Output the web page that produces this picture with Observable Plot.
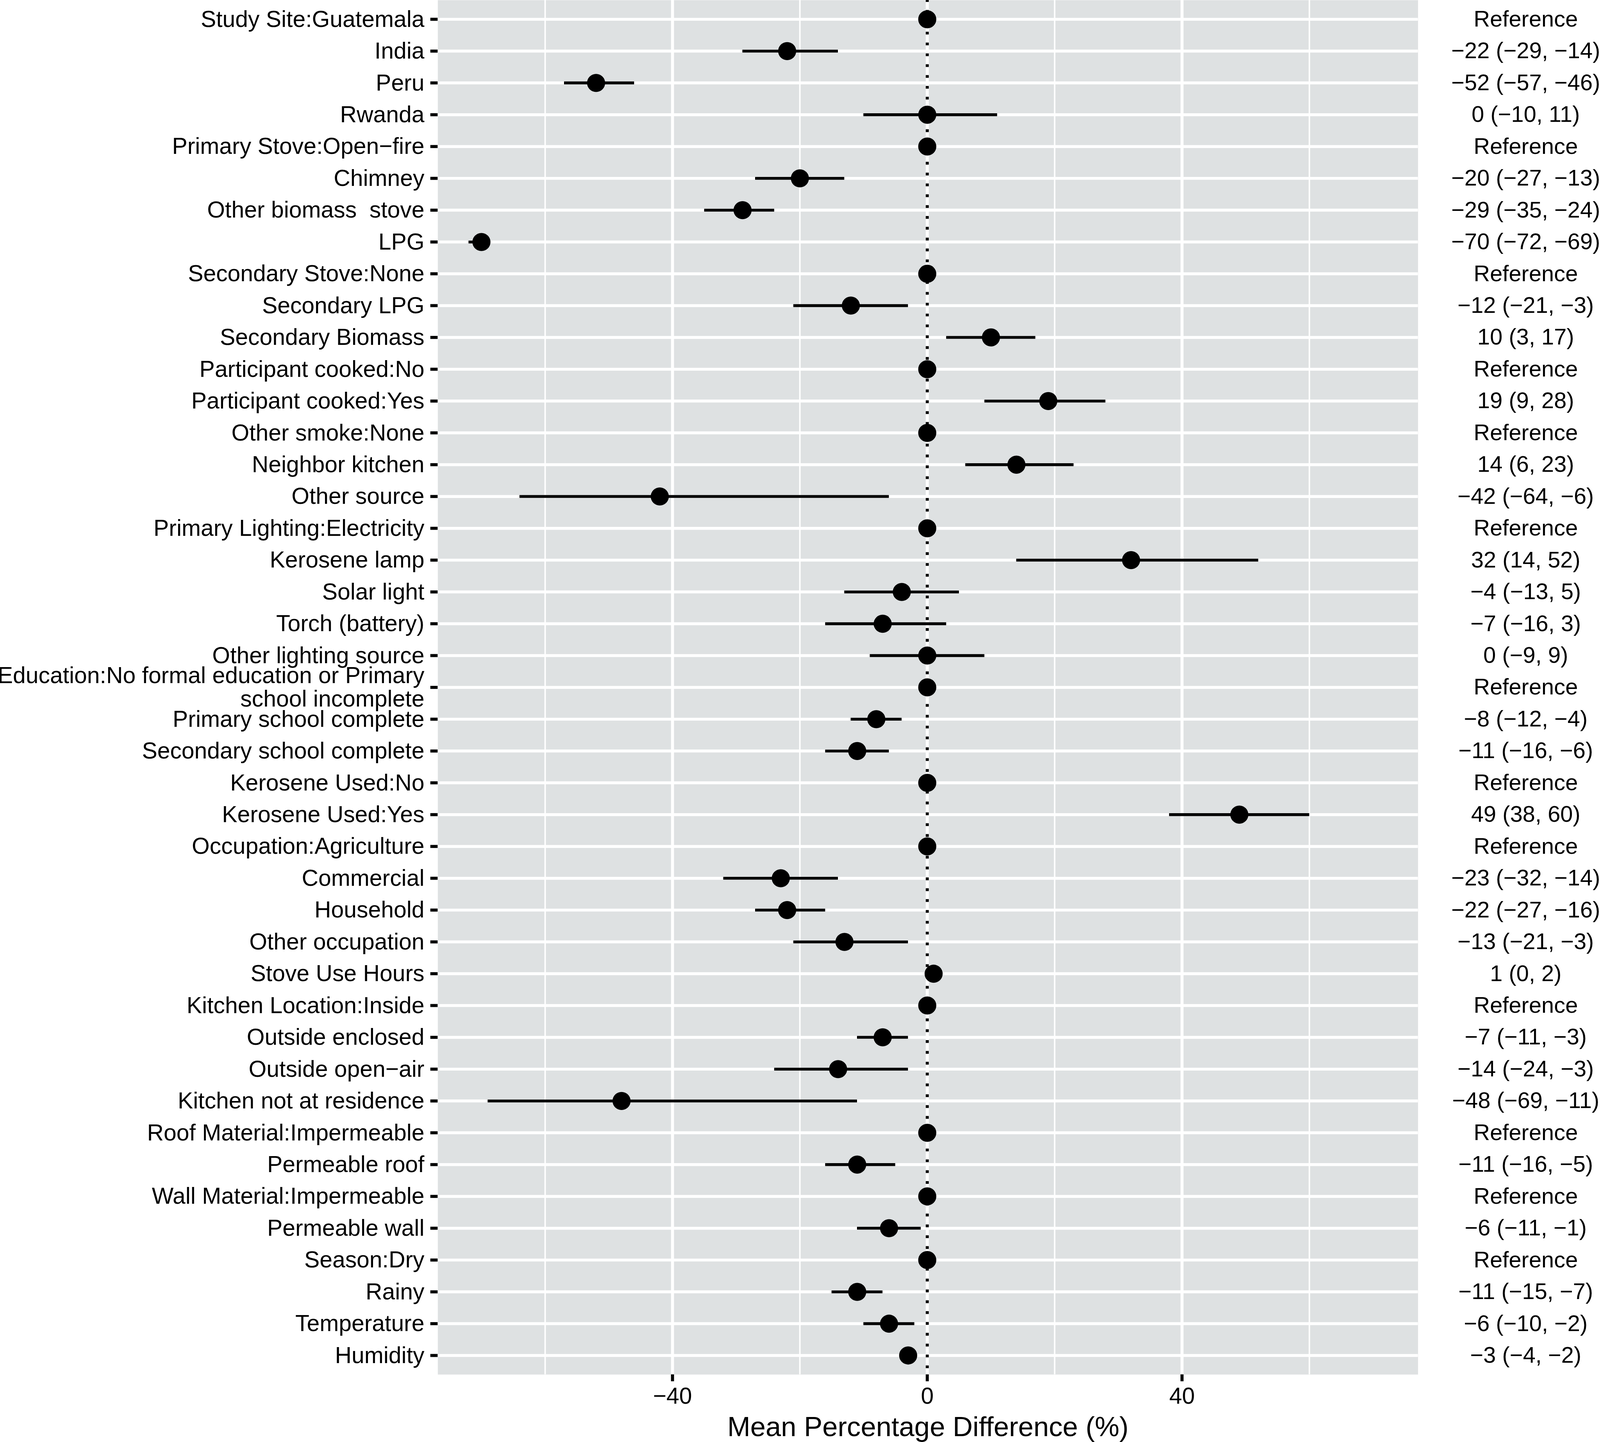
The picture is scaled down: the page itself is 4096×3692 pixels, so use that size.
<!DOCTYPE html>
<html>
<head>
<meta charset="utf-8">
<script src="https://cdn.jsdelivr.net/npm/d3@7"></script>
<script src="https://cdn.jsdelivr.net/npm/@observablehq/plot@0.6"></script>
<style>
  html, body { margin: 0; padding: 0; background: #fff; }
  svg text { white-space: pre; }
</style>
</head>
<body>
<div id="chart"></div>
<script>
// ---- data ----
const labels = [
  "Study Site:Guatemala", "India", "Peru", "Rwanda",
  "Primary Stove:Open\u2212fire", "Chimney", "Other biomass  stove", "LPG",
  "Secondary Stove:None", "Secondary LPG", "Secondary Biomass",
  "Participant cooked:No", "Participant cooked:Yes",
  "Other smoke:None", "Neighbor kitchen", "Other source",
  "Primary Lighting:Electricity", "Kerosene lamp", "Solar light", "Torch (battery)", "Other lighting source",
  "Education:No formal education or Primary\nschool incomplete", "Primary school complete", "Secondary school complete",
  "Kerosene Used:No", "Kerosene Used:Yes",
  "Occupation:Agriculture", "Commercial", "Household", "Other occupation",
  "Stove Use Hours",
  "Kitchen Location:Inside", "Outside enclosed", "Outside open\u2212air", "Kitchen not at residence",
  "Roof Material:Impermeable", "Permeable roof",
  "Wall Material:Impermeable", "Permeable wall",
  "Season:Dry", "Rainy", "Temperature", "Humidity"
];
const estimates = [0, -22, -52, 0, 0, -20, -29, -70, 0, -12, 10, 0, 19, 0, 14, -42, 0, 32, -4, -7, 0,
  0, -8, -11, 0, 49, 0, -23, -22, -13, 1, 0, -7, -14, -48, 0, -11, 0, -6, 0, -11, -6, -3];
const lower = [null, -29, -57, -10, null, -27, -35, -72, null, -21, 3, null, 9, null, 6, -64, null, 14, -13, -16, -9,
  null, -12, -16, null, 38, null, -32, -27, -21, 0, null, -11, -24, -69, null, -16, null, -11, null, -15, -10, -4];
const upper = [null, -14, -46, 11, null, -13, -24, -69, null, -3, 17, null, 28, null, 23, -6, null, 52, 5, 3, 9,
  null, -4, -6, null, 60, null, -14, -16, -3, 2, null, -3, -3, -11, null, -5, null, -1, null, -7, -2, -2];
const referenceText = "Reference";
const xTicks = [-40, 0, 40];
const xMinorGrid = [-60, -20, 20, 60];
const xDomain = [-76.85, 77.06];
const xTitle = "Mean Percentage Difference (%)";

// ---- build table ----
const fmt = v => String(v).replace("-", "\u2212");
const rows = labels.map((label, i) => ({
  label,
  est: estimates[i],
  lo: lower[i],
  hi: upper[i],
  txt: lower[i] == null ? referenceText : `${fmt(estimates[i])} (${fmt(lower[i])}, ${fmt(upper[i])})`
}));

const s = 0.981;
const W = 4096, H = 3692;
const font = "'Liberation Sans', Arial, Helvetica, sans-serif";

const chart = Plot.plot({
  width: W,
  height: H,
  marginLeft: 1142 * s,
  marginRight: W - 3700 * s,
  marginTop: 0,
  marginBottom: H - 3587 * s,
  style: { fontFamily: font, background: "white", color: "black", overflow: "visible" },
  x: { domain: xDomain },
  y: { type: "point", domain: labels, padding: 0.6, round: false },
  marks: [
    Plot.frame({ fill: "#dee1e2", stroke: "none" }),
    Plot.ruleX(xMinorGrid, { stroke: "white", strokeWidth: 3.9 * s }),
    Plot.ruleY(labels, { stroke: "white", strokeWidth: 7.6 * s }),
    Plot.ruleX(xTicks, { stroke: "white", strokeWidth: 7.8 * s }),
    Plot.ruleX([0], { stroke: "black", strokeWidth: 7.8 * s, strokeDasharray: `${7.3 * s},${21 * s}`, strokeDashoffset: 2.2 * s }),
    Plot.ruleY(rows.filter(d => d.lo != null), { y: "label", x1: "lo", x2: "hi", stroke: "black", strokeWidth: 7.5 * s }),
    Plot.dot(rows, { x: "est", y: "label", r: 23.6 * s, fill: "black", stroke: "none" }),
    Plot.text(rows, { y: "label", text: "txt", frameAnchor: "right", dx: 281 * s, textAnchor: "middle", fontSize: 59 * s, fill: "black" }),
    Plot.axisY({ tickSize: 19 * s, tickPadding: 16 * s, fontSize: 60 * s, strokeWidth: 8 * s, lineHeight: 1.02, label: null }),
    Plot.axisX({ ticks: xTicks, tickFormat: fmt, tickSize: 18 * s, tickPadding: 15 * s, fontSize: 60 * s, strokeWidth: 8 * s, label: null }),
    Plot.text([xTitle], { text: d => d, frameAnchor: "bottom", dy: 138 * s, lineAnchor: "middle", fontSize: 72 * s, fill: "black" })
  ]
});
document.getElementById("chart").appendChild(chart);
</script>
</body>
</html>
